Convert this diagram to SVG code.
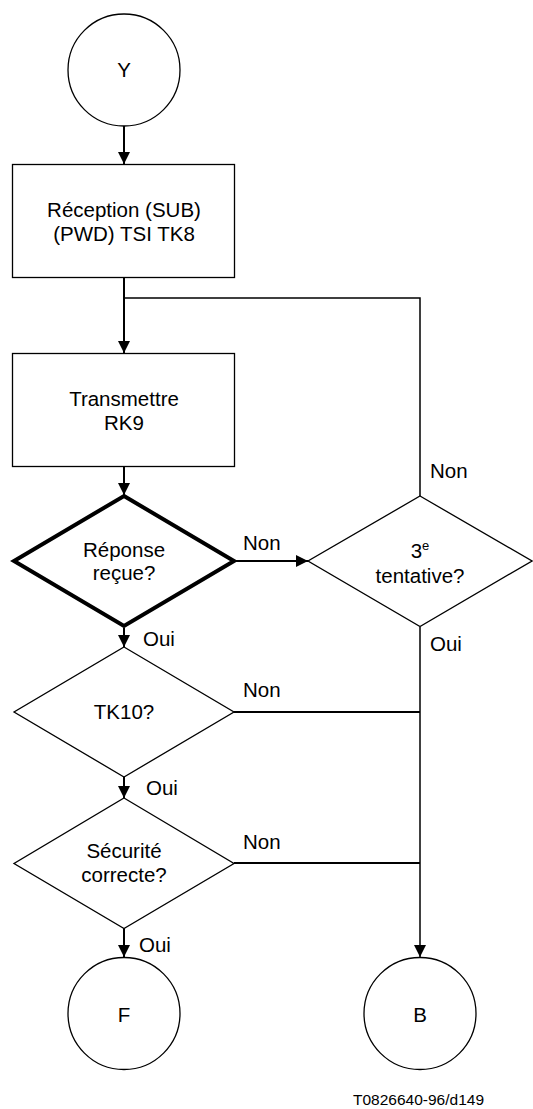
<svg xmlns="http://www.w3.org/2000/svg" width="533" height="1109" viewBox="0 0 533 1109">
<defs>
<marker id="arr" markerUnits="userSpaceOnUse" markerWidth="12" markerHeight="13" refX="12" refY="6" orient="auto">
<path d="M0,0 L12,6 L0,12 Z" fill="#000"/>
</marker>
<style>
text{font-family:"Liberation Sans",Arial,sans-serif;font-size:20.5px;fill:#000}
.t{text-anchor:middle}
.n{fill:#fff;stroke:#000;stroke-width:1.3}
.c{fill:none;stroke:#000;stroke-width:2}
.l{fill:none;stroke:#000;stroke-width:1.5}
.bold{fill:#fff;stroke:#000;stroke-width:4;stroke-linejoin:miter}
</style>
</defs>
<rect width="533" height="1109" fill="#fff"/>
<g id="connectors">
<line class="c" x1="124" y1="126" x2="124" y2="164" marker-end="url(#arr)"/>
<line class="c" x1="124" y1="278" x2="124" y2="353" marker-end="url(#arr)"/>
<polyline class="l" points="420,496 420,298 124,298"/>
<line class="c" x1="124" y1="467" x2="124" y2="495" marker-end="url(#arr)"/>
<line class="c" x1="236" y1="561" x2="308" y2="561" marker-end="url(#arr)"/>
<line class="l" x1="420" y1="627" x2="420" y2="957" marker-end="url(#arr)"/>
<line class="c" x1="124" y1="628" x2="124" y2="647" marker-end="url(#arr)"/>
<line class="c" x1="234" y1="712" x2="420" y2="712"/>
<line class="c" x1="124" y1="777" x2="124" y2="798" marker-end="url(#arr)"/>
<line class="c" x1="234" y1="863" x2="420" y2="863"/>
<line class="c" x1="124" y1="928" x2="124" y2="957" marker-end="url(#arr)"/>
<text x="243" y="550">Non</text>
<text x="430" y="478">Non</text>
<text x="143" y="646">Oui</text>
<text x="430" y="651">Oui</text>
<text x="243" y="697">Non</text>
<text x="146" y="795">Oui</text>
<text x="243" y="849">Non</text>
<text x="139" y="952">Oui</text>
</g>
<g id="Y">
<circle class="n" cx="124" cy="70" r="56"/>
<text class="t" x="124" y="77">Y</text>
</g>
<g id="reception">
<rect class="n" x="12.5" y="164.5" width="222" height="113"/>
<text class="t" x="124" y="217">Réception (SUB)</text>
<text class="t" x="124" y="240.5">(PWD) TSI TK8</text>
</g>
<g id="transmettre">
<rect class="n" x="12.5" y="353.5" width="222" height="113"/>
<text class="t" x="124" y="406">Transmettre</text>
<text class="t" x="124" y="430">RK9</text>
</g>
<g id="reponse">
<polygon class="bold" points="124,496 234,561 124,626 14,561"/>
<text class="t" x="124" y="557">Réponse</text>
<text class="t" x="124" y="580">reçue?</text>
</g>
<g id="tentative">
<polygon class="n" points="420,496 532,561 420,626.5 308,561"/>
<text class="t" x="420" y="558">3<tspan font-size="13" dy="-8">e</tspan></text>
<text class="t" x="420" y="583">tentative?</text>
</g>
<g id="tk10">
<polygon class="n" points="124,647 234,712 124,777 14,712"/>
<text class="t" x="124" y="719">TK10?</text>
</g>
<g id="securite">
<polygon class="n" points="124,798 234,863.5 124,928.5 14,863.5"/>
<text class="t" x="124" y="858">Sécurité</text>
<text class="t" x="124" y="882">correcte?</text>
</g>
<g id="F">
<circle class="n" cx="124" cy="1013.5" r="56"/>
<text class="t" x="124" y="1021.5">F</text>
</g>
<g id="B">
<circle class="n" cx="420" cy="1013.5" r="56"/>
<text class="t" x="420" y="1021.5">B</text>
</g>
<text x="353" y="1105" style="font-size:15.5px">T0826640-96/d149</text>
</svg>
